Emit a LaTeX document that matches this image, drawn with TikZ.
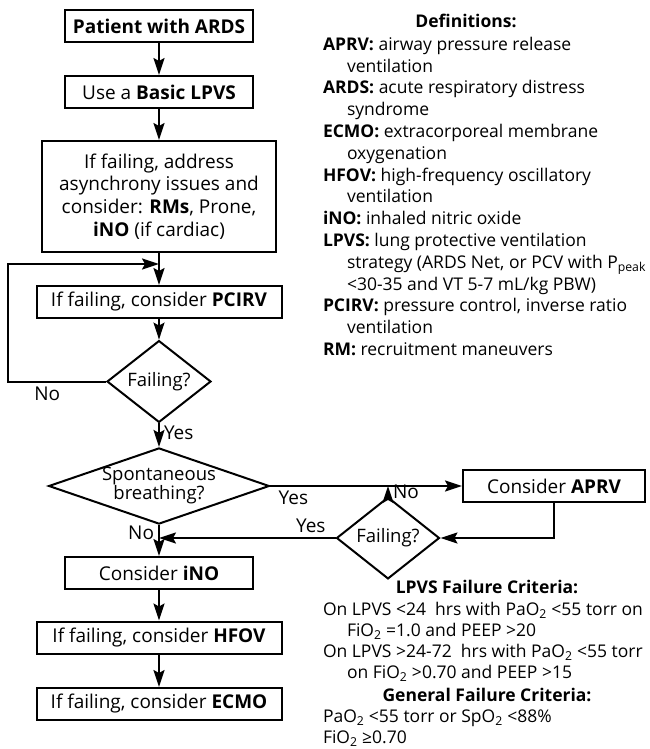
\documentclass[tikz,border=0pt]{standalone}
\usepackage{fontspec}
\setmainfont{Open Sans}
\usetikzlibrary{arrows.meta,positioning,shapes.geometric}

\tikzset{
  box/.style={draw, line width=2pt, align=center, minimum height=32pt, inner sep=2pt,
    font=\fontsize{19}{22.7}\selectfont},
  decision/.style={draw, diamond, line width=2pt, inner sep=0pt, align=center,
    font=\fontsize{18.5}{19}\selectfont},
  lbl/.style={font=\fontsize{19}{20}\selectfont, inner sep=4pt},
  deftext/.style={align=left, inner sep=0pt, anchor=north west,
    font=\fontsize{17.5}{21.8}\selectfont},
  crittext/.style={deftext, font=\fontsize{17.5}{21}\selectfont},
  deftitle/.style={inner sep=0pt, font=\fontsize{17.5}{20}\selectfont\bfseries},
}

\begin{document}
\begin{tikzpicture}[x=1pt, y=-1pt, line width=2pt,
    >={Stealth[length=17pt,width=11pt,inset=3pt]},
    node distance=65pt, on grid, auto]
  \useasboundingbox (0,0) rectangle (650,749);

  % main column
  \node[box, minimum width=188pt] (ards) at (159,26.5) {\textbf{Patient with ARDS}};
  \node[box, minimum width=188pt] (basic) [below=65.5pt of ards] {Use a \textbf{Basic LPVS}};
  \node[box, minimum width=234pt, minimum height=111pt] (asynch) [below=104.5pt of basic]
    {If failing, address\\asynchrony issues and\\consider: \textbf{RMs}, Prone,\\\textbf{iNO} (if cardiac)};
  \node[box, minimum width=245pt] (pcirv) [below=105.5pt of asynch] {If failing, consider \textbf{PCIRV}};
  \node[decision, minimum width=104pt, minimum height=63pt] (fail1) [below=79.5pt of pcirv] {Failing?};
  \node[decision, aspect=2.9, minimum width=214pt, minimum height=73pt] (spont) [below=104.5pt of fail1] {Spontaneous\\breathing?};
  \node[box, minimum width=188pt] (ino) [below=87pt of spont] {Consider \textbf{iNO}};
  \node[box, minimum width=245pt] (hfov) [below=64.5pt of ino] {If failing, consider \textbf{HFOV}};
  \node[box, minimum width=245pt] (ecmo) [below=66.5pt of hfov] {If failing, consider \textbf{ECMO}};

  % APRV branch
  \node[box, minimum width=182pt] (aprv) [right=395pt of spont] {Consider \textbf{APRV}};
  \node[decision, minimum width=103pt, minimum height=62pt] (fail2) [below right=52pt and 229pt of spont] {Failing?};

  \coordinate[below=11pt of asynch.south] (join);
  \coordinate[left=98pt of fail1.west] (loopcorner);

  \path[->]
    (ards) edge (basic)
    (basic) edge (asynch)
    (asynch) edge (pcirv)
    (pcirv) edge (fail1)
    (fail1) edge node[lbl, pos=0.4] {Yes} (spont)
    (spont) edge node[lbl, swap, pos=0.26] {No} (ino)
    (spont.east) edge node[lbl, swap, pos=0.12] {Yes} (aprv)
    (ino) edge (hfov)
    (hfov) edge (ecmo);
  \draw[->] (fail1.west) -- node[lbl, pos=0.6] {No} (loopcorner) |- (join);
  \draw[->] (aprv.south) |- (fail2.east);
  \draw[->] (fail2.north) -- node[lbl, swap, pos=0.45] {No} (fail2.north |- spont.east);
  \draw[->] (fail2.west) -- node[lbl, swap, pos=0.14] {Yes} (fail2.west -| spont.south);

  % definitions
  \node[deftitle] (defhead) at (466,21) {Definitions:};
  \node[deftext] (deflist) at (322,36) {%
    \textbf{APRV:} airway pressure release\\
    \hspace*{24pt}ventilation\\
    \textbf{ARDS:} acute respiratory distress\\
    \hspace*{24pt}syndrome\\
    \textbf{ECMO:} extracorporeal membrane\\
    \hspace*{24pt}oxygenation\\
    \textbf{HFOV:} high-frequency oscillatory\\
    \hspace*{24pt}ventilation\\
    \textbf{iNO:} inhaled nitric oxide\\
    \textbf{LPVS:} lung protective ventilation\\
    \hspace*{24pt}strategy (ARDS Net, or PCV with P\textsubscript{peak}\\
    \hspace*{24pt}<30-35 and VT 5-7 mL/kg PBW)\\
    \textbf{PCIRV:} pressure control, inverse ratio\\
    \hspace*{24pt}ventilation\\
    \textbf{RM:} recruitment maneuvers};

  % failure criteria
  \node[deftitle] (lpvshead) at (487,587) {LPVS Failure Criteria:};
  \node[crittext] (lpvslist) at (322,601) {%
    On LPVS <24\ \ hrs with PaO\textsubscript{2} <55 torr on\\
    \hspace*{24pt}FiO\textsubscript{2} =1.0 and PEEP >20\\
    On LPVS >24-72\ \ hrs with PaO\textsubscript{2} <55 torr\\
    \hspace*{24pt}on FiO\textsubscript{2} >0.70 and PEEP >15};
  \node[deftitle] (genhead) at (487,695) {General Failure Criteria:};
  \node[crittext] (genlist) at (322,709) {%
    PaO\textsubscript{2} <55 torr or SpO\textsubscript{2} <88\%\\
    FiO\textsubscript{2} ≥0.70};
\end{tikzpicture}
\end{document}
